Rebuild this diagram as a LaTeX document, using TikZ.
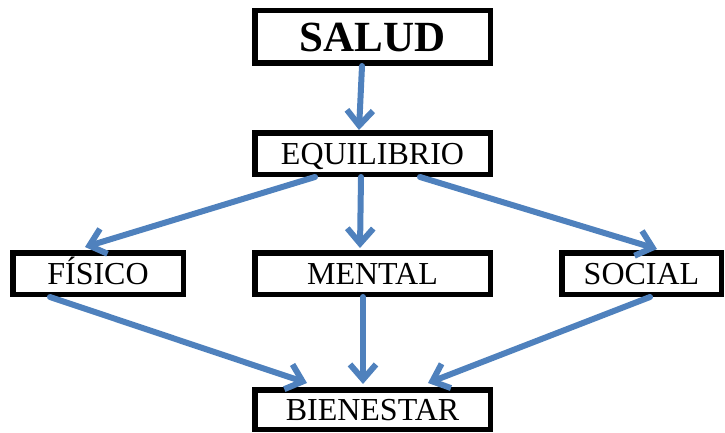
\documentclass[tikz,border=0pt]{standalone}
\usepackage{fontspec}
\setmainfont{Liberation Serif}
\usetikzlibrary{arrows.meta}
\definecolor{azul}{RGB}{79,129,189}

\begin{document}
\begin{tikzpicture}[x=1pt, y=1pt,
	caja/.style={draw, line width=5.5pt, minimum height=41.5pt, inner sep=0pt, text height=21pt, text depth=0pt, font=\fontsize{32}{32}\selectfont},
	flecha/.style={azul, line width=6pt, line cap=round, line join=round, -{Straight Barb[length=15pt, width=26pt]}}]
	\useasboundingbox (0,0) rectangle (725,432);
	% Cajas
		\node[caja, minimum width=235.5pt, minimum height=52.5pt, text height=29pt, font=\fontsize{43}{43}\selectfont\bfseries] (salud) at (372.5,395) {SALUD};
		\node[caja, minimum width=235.5pt] (equilibrio) at (372.5,278.5) {EQUILIBRIO};
		\node[caja, minimum width=170.5pt] (fisico) at (98,158.5) {FÍSICO};
		\node[caja, minimum width=235.5pt] (mental) at (372.5,158.5) {MENTAL};
		\node[caja, minimum width=159.5pt] (social) at (641.5,158.5) {SOCIAL};
		\node[caja, minimum width=235.5pt, minimum height=39.5pt] (bienestar) at (372.5,22.5) {BIENESTAR};

	% Flechas de arriba
		\draw[flecha] ([xshift=-10.5pt]salud.south) -- ([xshift=-13.5pt]equilibrio.north);
		\draw[flecha] ([xshift=-57.5pt]equilibrio.south) -- ([xshift=-13pt, yshift=3pt]fisico.north);
		\draw[flecha] ([xshift=-11.5pt]equilibrio.south) -- ([xshift=-12.5pt, yshift=2pt]mental.north);
		\draw[flecha] ([xshift=47.5pt]equilibrio.south) -- ([xshift=15.5pt, yshift=1pt]social.north);

	% Flechas hacia bienestar
		\draw[flecha] ([xshift=-48pt]fisico.south) -- ([xshift=-65.5pt, yshift=4pt]bienestar.north);
		\draw[flecha] ([xshift=-9.5pt]mental.south) -- ([xshift=-9.5pt, yshift=3pt]bienestar.north);
		\draw[flecha] ([xshift=8.5pt]social.south) -- ([xshift=55.5pt, yshift=4pt]bienestar.north);
\end{tikzpicture}
\end{document}
